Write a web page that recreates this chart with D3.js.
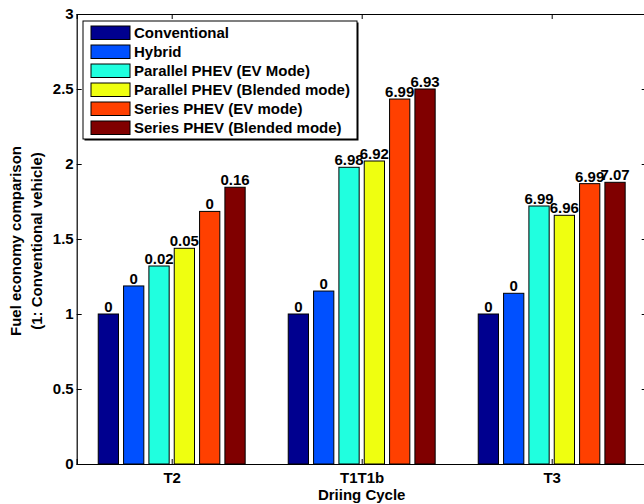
<!DOCTYPE html>
<html>
<head>
<meta charset="utf-8">
<script src="https://cdn.jsdelivr.net/npm/d3@7"></script>
<style>
  body { margin: 0; background: #fff; }
  svg { display: block; font-family: "Liberation Sans", Arial, Helvetica, sans-serif; font-weight: bold; }
</style>
</head>
<body>
<div id="chart"></div>
<script>
  const cycles = ["T2", "T1T1b", "T3"];
  const seriesNames = ["Conventional", "Hybrid", "Parallel PHEV (EV Mode)", "Parallel PHEV (Blended mode)", "Series PHEV (EV mode)", "Series PHEV (Blended mode)"];
  const seriesColors = ["#00008f", "#0050ff", "#20ffdf", "#efff10", "#ff4000", "#800000"];
  // ratio per cycle, one array per series
  const conventional = [1.0, 1.0, 1.0];
  const hybrid = [1.187, 1.153, 1.138];
  const parallelEV = [1.32, 1.978, 1.72];
  const parallelBlended = [1.438, 2.02, 1.658];
  const seriesEV = [1.684, 2.433, 1.869];
  const seriesBlended = [1.845, 2.5, 1.878];
  // text printed above each bar
  const barLabels = [
    ["0", "0", "0"],
    ["0", "0", "0"],
    ["0.02", "6.98", "6.99"],
    ["0.05", "6.92", "6.96"],
    ["0", "6.99", "6.99"],
    ["0.16", "6.93", "7.07"]
  ];
  const yTicks = [0, 0.5, 1, 1.5, 2, 2.5, 3];

  const values = [conventional, hybrid, parallelEV, parallelBlended, seriesEV, seriesBlended];

  const W = 644, H = 504;
  const m = {left: 76.7, right: 646.7, top: 14, bottom: 464};

  const svg = d3.select("#chart").append("svg").attr("width", W).attr("height", H);

  const x = d3.scaleLinear().domain([0.5, 3.5]).range([m.left, m.right]);
  const xs = d3.scaleBand().domain(d3.range(seriesNames.length)).range([-76, 76]).paddingInner(0.2).paddingOuter(0.1);
  const y = d3.scaleLinear().domain([0, 3]).range([m.bottom, m.top]);

  /*============= bars ===============*/
  const data = [];
  values.forEach((vals, s) => vals.forEach((v, c) => data.push({s, c, v, label: barLabels[s][c]})));

  svg.append("g").selectAll("rect")
    .data(data)
    .join("rect")
    .attr("x", d => x(d.c + 1) + xs(d.s))
    .attr("y", d => y(d.v))
    .attr("width", xs.bandwidth())
    .attr("height", d => y(0) - y(d.v))
    .attr("fill", d => seriesColors[d.s])
    .attr("stroke", "#000")
    .attr("stroke-width", 1);

  svg.append("g").selectAll("text")
    .data(data)
    .join("text")
    .attr("x", d => x(d.c + 1) + xs(d.s) + xs.bandwidth() / 2)
    .attr("y", d => y(d.v) - 2)
    .attr("text-anchor", "middle")
    .attr("font-size", 15)
    .attr("fill", "#000")
    .text(d => d.label);

  /*============= axes ===============*/
  const tickLen = 5;
  const yAxisL = d3.axisLeft(y).tickValues(yTicks).tickFormat(d3.format("")).tickSize(-tickLen).tickPadding(3);
  svg.append("g").attr("transform", `translate(${m.left},0)`).call(yAxisL);
  const yAxisR = d3.axisRight(y).tickValues(yTicks).tickSize(-tickLen).tickFormat("");
  svg.append("g").attr("transform", `translate(${m.right},0)`).call(yAxisR);

  const xAxisB = d3.axisBottom(x).tickValues([1, 2, 3]).tickFormat(i => cycles[i - 1]).tickSize(-tickLen).tickPadding(8);
  svg.append("g").attr("transform", `translate(0,${m.bottom})`).call(xAxisB);
  const xAxisT = d3.axisTop(x).tickValues([1, 2, 3]).tickFormat("").tickSize(-tickLen);
  svg.append("g").attr("transform", `translate(0,${m.top})`).call(xAxisT);

  svg.selectAll(".domain").attr("stroke", "#000").attr("stroke-width", 1.2);
  svg.selectAll(".tick line").attr("stroke", "#000");
  svg.selectAll(".tick text").attr("font-size", 15).attr("font-weight", "bold")
    .attr("font-family", "Liberation Sans, Arial, sans-serif").attr("fill", "#000");

  /*============= titles ===============*/
  svg.append("text")
    .attr("x", x(2)).attr("y", 500)
    .attr("text-anchor", "middle").attr("font-size", 15)
    .text("Driing Cycle");

  const yTitle = svg.append("text")
    .attr("transform", `translate(0,${(m.top + m.bottom) / 2 + 2}) rotate(-90)`)
    .attr("text-anchor", "middle").attr("font-size", 15);
  yTitle.append("tspan").attr("x", 0).attr("y", 20.5).text("Fuel economy comparison");
  yTitle.append("tspan").attr("x", 0).attr("y", 42).text("(1: Conventional vehicle)");

  /*============= legend ===============*/
  const lg = {x: 83, y: 21, w: 274, h: 118, row: 19};
  const legend = svg.append("g");
  legend.append("rect")
    .attr("x", lg.x + 1.5).attr("y", lg.y + 1.5).attr("width", lg.w).attr("height", lg.h)
    .attr("fill", "#000");
  legend.append("rect")
    .attr("x", lg.x).attr("y", lg.y).attr("width", lg.w).attr("height", lg.h)
    .attr("fill", "#fff").attr("stroke", "#000").attr("stroke-width", 1);

  const items = legend.selectAll("g.item")
    .data(seriesNames)
    .join("g")
    .attr("class", "item")
    .attr("transform", (d, i) => `translate(${lg.x + 8},${lg.y + 5 + i * lg.row})`);
  items.append("rect")
    .attr("width", 39).attr("height", 13.5)
    .attr("fill", (d, i) => seriesColors[i])
    .attr("stroke", "#000");
  items.append("text")
    .attr("x", 43).attr("y", 12)
    .attr("font-size", 15)
    .text(d => d);
</script>
</body>
</html>
